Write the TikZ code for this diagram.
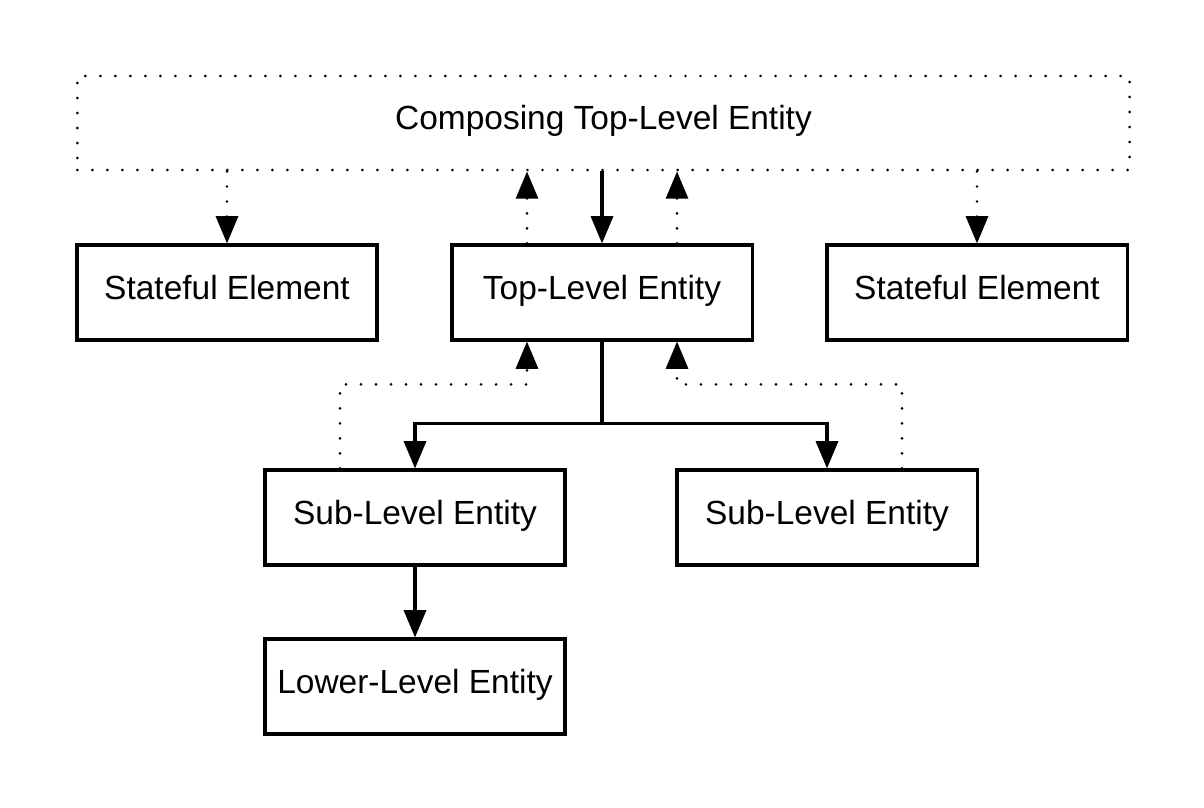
\documentclass[tikz,border=0pt]{standalone}
\usepackage{fontspec}
\setmainfont{Liberation Sans}
\usetikzlibrary{arrows.meta,positioning,calc}
\tikzset{
  entity/.style={draw=black, line width=2.2pt, fill=white,
    minimum width=7.5cm, minimum height=2.375cm, inner sep=0pt,
    text height=0.6cm, text depth=0.275cm,
    align=center, font=\fontsize{23.8}{28}\selectfont},
  composebox/.style={draw=black, line width=2.1pt, line cap=round,
    dash pattern=on 0pt off 10.67pt, minimum width=26.3cm,
    minimum height=2.35cm, inner sep=0pt,
    text height=0.6cm, text depth=0.275cm,
    font=\fontsize{23.8}{28}\selectfont},
  arrow/.style={-{Triangle[length=0.68cm,width=0.55cm]}, line width=2.2pt},
  dotarrow/.style={-{Triangle[length=0.68cm,width=0.55cm]}, line width=2.1pt,
    line cap=round, dash pattern=on 0pt off 10.67pt},
  tree/.style={line width=2.2pt}
}
\begin{document}
\begin{tikzpicture}[x=0.025cm,y=-0.025cm]
  \useasboundingbox (0,0) rectangle (1204,808);
  \node[composebox] (compose) at (603.5,123) {Composing Top-Level Entity};
  \node[entity] (stateL) at (227,292.5) {Stateful Element};
  \node[entity] (top) at (602,292.5) {Top-Level Entity};
  \node[entity] (stateR) at (977,292.5) {Stateful Element};
  \node[entity] (subL) at (415,517.5) {Sub-Level Entity};
  \node[entity] (subR) at (827,517.5) {Sub-Level Entity};
  \node[entity] (lower) at (415,686.5) {Lower-Level Entity};
  % helper points on the top-level box
  \coordinate (tnw) at ([xshift=-1.875cm]top.north);
  \coordinate (tne) at ([xshift=1.875cm]top.north);
  \coordinate (tsw) at ([xshift=-1.875cm]top.south);
  \coordinate (tse) at ([xshift=1.875cm]top.south);
  \coordinate (snw) at ([xshift=-1.875cm]subL.north);
  \coordinate (sne) at ([xshift=1.875cm]subR.north);
  % composing level
  \draw[dotarrow] (compose.south -| stateL.north) -- (stateL.north);
  \draw[dotarrow] (compose.south -| stateR.north) -- (stateR.north);
  \draw[arrow] (compose.south -| top.north) -- (top.north);
  \draw[dotarrow] (tnw) -- (tnw |- compose.south);
  \draw[dotarrow] (tne) -- (tne |- compose.south);
  % sub levels
  \draw[tree] (top.south) -- ++(0,82) coordinate (split);
  \draw[arrow] (split) -| (subL.north);
  \draw[arrow] (split) -| (subR.north);
  \draw[dotarrow] (snw) -- ++(0,-84) -| (tsw);
  \draw[dotarrow] (sne) -- ++(0,-84) -| (tse);
  \draw[arrow] (subL.south) -- (lower.north);
\end{tikzpicture}
\end{document}
